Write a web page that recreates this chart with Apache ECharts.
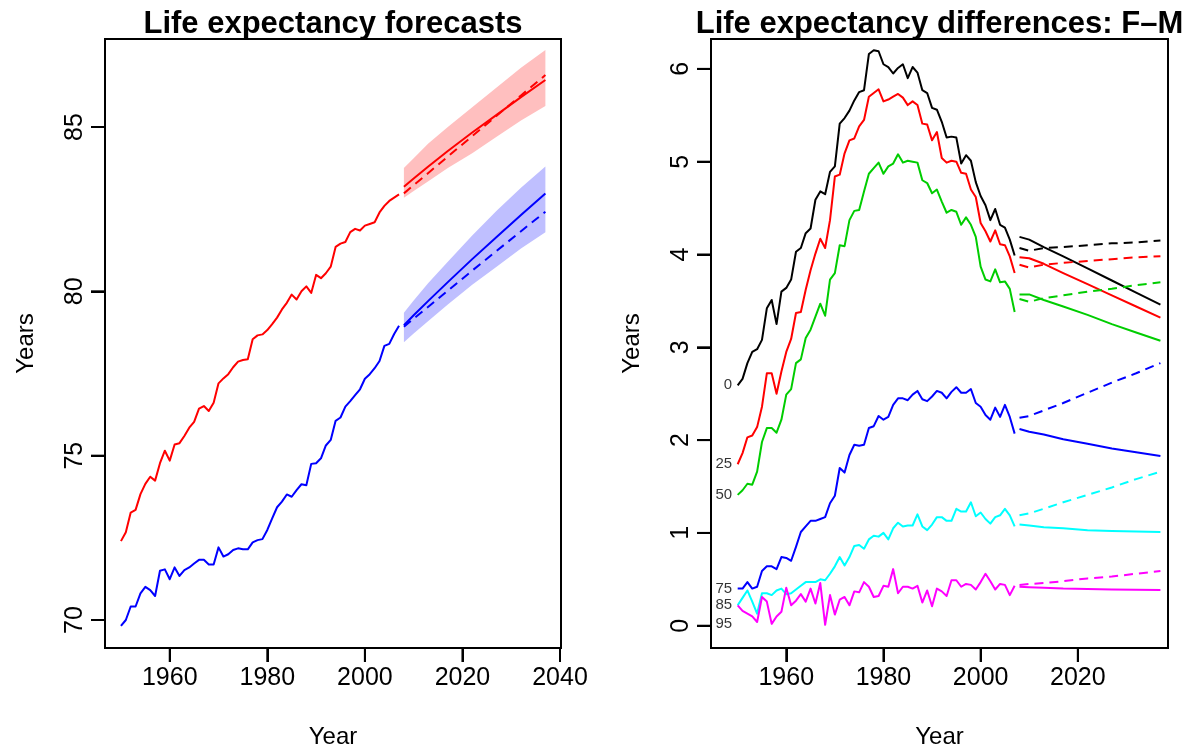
<!DOCTYPE html>
<html>
<head>
<meta charset="utf-8">
<script src="https://cdn.jsdelivr.net/npm/echarts@6/dist/echarts.min.js"></script>
<style>
  html, body { margin: 0; padding: 0; background: #ffffff; }
  #chart { width: 1197px; height: 749px; }
</style>
</head>
<body>
<div id="chart"></div>
<script>
// ---------- years ----------
const histYears = Array.from({ length: 58 }, (_, i) => 1950 + i);   // 1950..2007
const fcYears = [2008, 2010, 2013, 2017, 2022, 2027, 2032, 2037];

// ---------- life expectancy at birth ----------
const femaleLE = [
  72.40, 72.67, 73.27, 73.35, 73.83, 74.14, 74.36, 74.24, 74.77, 75.15,
  74.85, 75.34, 75.38, 75.60, 75.85, 76.03, 76.43, 76.51, 76.36, 76.61,
  77.20, 77.35, 77.48, 77.69, 77.86, 77.91, 77.93, 78.54, 78.66, 78.69,
  78.82, 79.00, 79.20, 79.45, 79.65, 79.90, 79.75, 80.00, 80.15, 79.95,
  80.50, 80.40, 80.55, 80.75, 81.35, 81.45, 81.50, 81.80, 81.90, 81.85,
  82.00, 82.05, 82.10, 82.40, 82.60, 82.75, 82.85, 82.95
];
const maleLE = [
  69.82, 70.00, 70.41, 70.41, 70.81, 71.01, 70.91, 70.73, 71.50, 71.54,
  71.24, 71.60, 71.34, 71.52, 71.60, 71.72, 71.83, 71.83, 71.69, 71.69,
  72.21, 71.93, 72.00, 72.13, 72.18, 72.15, 72.15, 72.36, 72.43, 72.46,
  72.74, 73.09, 73.43, 73.60, 73.82, 73.75, 73.95, 74.13, 74.10, 74.75,
  74.77, 74.92, 75.31, 75.48, 76.06, 76.16, 76.49, 76.66, 76.84, 77.02,
  77.34, 77.48, 77.66, 77.88, 78.34, 78.40, 78.70, 78.95
];
// forecasts (solid = coherent, dashed = independent) and 80% bands
const femaleFc    = [83.18, 83.43, 83.80, 84.27, 84.83, 85.37, 85.91, 86.43];
const femaleFcInd = [82.98, 83.23, 83.60, 84.10, 84.72, 85.34, 85.96, 86.58];
const femaleLo    = [82.85, 83.05, 83.35, 83.75, 84.20, 84.70, 85.20, 85.64];
const femaleHi    = [83.75, 84.05, 84.50, 85.00, 85.60, 86.20, 86.80, 87.34];
const maleFc      = [78.97, 79.27, 79.71, 80.28, 80.98, 81.65, 82.32, 82.98];
const maleFcInd   = [78.92, 79.17, 79.53, 80.02, 80.63, 81.23, 81.83, 82.42];
const maleLo      = [78.45, 78.72, 79.10, 79.60, 80.20, 80.75, 81.30, 81.80];
const maleHi      = [79.35, 79.72, 80.25, 80.90, 81.70, 82.45, 83.15, 83.80];

// ---------- female minus male differences by age ----------
const ages = ['0', '25', '50', '75', '85', '95'];
const diffAge0 = [
  2.59, 2.66, 2.83, 2.95, 2.98, 3.08, 3.42, 3.51, 3.25, 3.60,
  3.64, 3.73, 4.03, 4.07, 4.23, 4.28, 4.59, 4.68, 4.65, 4.89,
  4.95, 5.41, 5.47, 5.55, 5.66, 5.75, 5.77, 6.16, 6.20, 6.19,
  6.05, 6.02, 5.95, 6.01, 6.05, 5.90, 6.02, 5.96, 5.77, 5.74,
  5.58, 5.56, 5.43, 5.26, 5.27, 5.26, 4.98, 5.07, 5.01, 4.78,
  4.63, 4.53, 4.37, 4.49, 4.32, 4.29, 4.16, 3.99
];
const diffAge25 = [
  1.74, 1.86, 2.03, 2.05, 2.14, 2.36, 2.72, 2.72, 2.50, 2.74,
  2.95, 3.09, 3.37, 3.38, 3.62, 3.83, 4.01, 4.17, 4.07, 4.37,
  4.84, 4.86, 5.09, 5.23, 5.25, 5.38, 5.45, 5.70, 5.74, 5.78,
  5.65, 5.67, 5.70, 5.73, 5.69, 5.61, 5.65, 5.61, 5.41, 5.40,
  5.23, 5.32, 5.04, 4.99, 5.01, 5.00, 4.88, 4.87, 4.70, 4.62,
  4.34, 4.25, 4.14, 4.26, 4.11, 4.10, 3.98, 3.80
];
const diffAge50 = [
  1.41, 1.46, 1.53, 1.52, 1.66, 1.98, 2.13, 2.13, 2.08, 2.22,
  2.49, 2.55, 2.83, 2.87, 3.10, 3.19, 3.33, 3.47, 3.34, 3.73,
  3.80, 4.10, 4.09, 4.37, 4.47, 4.48, 4.68, 4.87, 4.93, 4.99,
  4.87, 4.95, 4.98, 5.08, 4.99, 5.01, 5.00, 4.99, 4.80, 4.77,
  4.66, 4.70, 4.57, 4.45, 4.48, 4.46, 4.32, 4.40, 4.32, 4.19,
  3.87, 3.73, 3.71, 3.84, 3.70, 3.71, 3.63, 3.38
];
const diffAge75 = [
  0.40, 0.40, 0.47, 0.40, 0.42, 0.59, 0.64, 0.64, 0.61, 0.74,
  0.73, 0.70, 0.85, 1.01, 1.07, 1.13, 1.13, 1.15, 1.17, 1.32,
  1.40, 1.70, 1.65, 1.84, 1.95, 1.94, 1.95, 2.13, 2.15, 2.26,
  2.22, 2.25, 2.38, 2.45, 2.45, 2.43, 2.49, 2.53, 2.44, 2.42,
  2.47, 2.53, 2.51, 2.45, 2.52, 2.57, 2.51, 2.51, 2.55, 2.40,
  2.36, 2.27, 2.22, 2.35, 2.25, 2.38, 2.25, 2.07
];
const diffAge85 = [
  0.22, 0.30, 0.38, 0.26, 0.13, 0.35, 0.35, 0.33, 0.38, 0.40,
  0.34, 0.35, 0.39, 0.43, 0.47, 0.47, 0.47, 0.50, 0.49, 0.56,
  0.64, 0.74, 0.65, 0.74, 0.86, 0.87, 0.83, 0.93, 0.97, 0.96,
  1.00, 0.93, 1.05, 1.11, 1.07, 1.08, 1.08, 1.20, 1.07, 1.03,
  1.09, 1.17, 1.17, 1.13, 1.13, 1.26, 1.23, 1.23, 1.33, 1.18,
  1.22, 1.15, 1.10, 1.17, 1.19, 1.26, 1.19, 1.07
];
const diffAge95 = [
  0.22, 0.16, 0.13, 0.10, 0.04, 0.31, 0.26, 0.02, 0.10, 0.15,
  0.41, 0.22, 0.27, 0.34, 0.26, 0.40, 0.24, 0.46, 0.01, 0.33,
  0.12, 0.28, 0.31, 0.22, 0.37, 0.36, 0.47, 0.42, 0.31, 0.32,
  0.43, 0.42, 0.61, 0.35, 0.42, 0.42, 0.40, 0.43, 0.25, 0.38,
  0.21, 0.40, 0.37, 0.32, 0.49, 0.49, 0.42, 0.45, 0.44, 0.39,
  0.47, 0.56, 0.48, 0.39, 0.45, 0.44, 0.33, 0.43
];
// coherent (solid) forecasts of the differences
const diffFc0  = [4.19, 4.16, 4.08, 3.98, 3.85, 3.72, 3.59, 3.46];
const diffFc25 = [3.97, 3.96, 3.90, 3.80, 3.68, 3.56, 3.44, 3.32];
const diffFc50 = [3.57, 3.57, 3.51, 3.44, 3.35, 3.25, 3.16, 3.07];
const diffFc75 = [2.12, 2.09, 2.06, 2.01, 1.96, 1.91, 1.87, 1.83];
const diffFc85 = [1.09, 1.08, 1.06, 1.05, 1.03, 1.02, 1.015, 1.01];
const diffFc95 = [0.42, 0.415, 0.41, 0.40, 0.395, 0.39, 0.387, 0.385];
// independent (dashed) forecasts of the differences
const diffInd0  = [4.07, 4.04, 4.07, 4.08, 4.10, 4.12, 4.13, 4.15];
const diffInd25 = [3.89, 3.86, 3.89, 3.91, 3.93, 3.95, 3.97, 3.98];
const diffInd50 = [3.52, 3.49, 3.53, 3.56, 3.60, 3.63, 3.67, 3.70];
const diffInd75 = [2.24, 2.26, 2.32, 2.40, 2.51, 2.62, 2.72, 2.83];
const diffInd85 = [1.19, 1.21, 1.26, 1.33, 1.41, 1.49, 1.58, 1.66];
const diffInd95 = [0.44, 0.45, 0.46, 0.48, 0.51, 0.53, 0.56, 0.59];
// where each age name sits beside the start of its curve
const ageLabelY = [2.59, 1.74, 1.41, 0.40, 0.22, 0.02];

// ---------- tick positions ----------
const leftXTicks  = [1960, 1980, 2000, 2020, 2040];
const leftYTicks  = [70, 75, 80, 85];
const rightXTicks = [1960, 1980, 2000, 2020];
const rightYTicks = [0, 1, 2, 3, 4, 5, 6];

// ---------- styling ----------
const FONT = '"Liberation Sans", Arial, Helvetica, sans-serif';
const RED = '#FF0000', BLUE = '#0000FF';
const ageColors = ['#000000', '#FF0000', '#00CD00', '#0000FF', '#00FFFF', '#FF00FF'];
const DASH = [9, 6];
const TICK_LEN = 14;

const histSets = [diffAge0, diffAge25, diffAge50, diffAge75, diffAge85, diffAge95];
const fcSets = [diffFc0, diffFc25, diffFc50, diffFc75, diffFc85, diffFc95];
const indSets = [diffInd0, diffInd25, diffInd50, diffInd75, diffInd85, diffInd95];

const grids = [
  { left: 105, top: 39, width: 456, height: 609 },
  { left: 711, top: 39, width: 457, height: 609 }
];

function lineSeries(panel, years, vals, color, dashed) {
  return {
    type: 'line',
    xAxisIndex: panel,
    yAxisIndex: panel,
    data: years.map((y, i) => [y, vals[i]]),
    showSymbol: false,
    symbol: 'none',
    silent: true,
    z: 3,
    lineStyle: { color: color, width: 2, type: dashed ? DASH : 'solid', cap: 'butt', join: 'round' }
  };
}

// shaded prediction interval as one polygon through the axis scales
function bandSeries(lo, hi, fill) {
  return {
    type: 'custom',
    xAxisIndex: 0,
    yAxisIndex: 0,
    silent: true,
    z: 2,
    data: fcYears.map((y, i) => [y, lo[i], hi[i]]),
    encode: { x: 0, y: [1, 2] },
    renderItem: function (params, api) {
      if (params.dataIndex !== 0) return { type: 'group', children: [] };
      const pts = [];
      for (let i = 0; i < fcYears.length; i++) pts.push(api.coord([fcYears[i], hi[i]]));
      for (let i = fcYears.length - 1; i >= 0; i--) pts.push(api.coord([fcYears[i], lo[i]]));
      return { type: 'polygon', shape: { points: pts }, style: { fill: fill, stroke: null } };
    }
  };
}

const plainNumber = v => String(v);

function xAxisCfg(grid, min, max, ticks) {
  return {
    type: 'value', gridIndex: grid, min: min, max: max, position: 'bottom',
    name: 'Year', nameLocation: 'middle', nameGap: 77,
    nameTextStyle: { fontSize: 24, color: '#000', fontFamily: FONT },
    axisLine: { show: true, onZero: false, lineStyle: { color: '#000', width: 2 } },
    axisTick: { show: true, inside: false, length: TICK_LEN, customValues: ticks, lineStyle: { color: '#000', width: 2 } },
    axisLabel: { show: true, customValues: ticks, formatter: plainNumber, margin: 18, fontSize: 25, color: '#000', fontFamily: FONT },
    splitLine: { show: false }
  };
}
function yAxisCfg(grid, min, max, ticks) {
  return {
    type: 'value', gridIndex: grid, min: min, max: max, position: 'left',
    name: 'Years', nameLocation: 'middle', nameGap: 67,
    nameTextStyle: { fontSize: 24, color: '#000', fontFamily: FONT },
    axisLine: { show: true, onZero: false, lineStyle: { color: '#000', width: 2 } },
    axisTick: { show: true, inside: false, length: TICK_LEN, customValues: ticks, lineStyle: { color: '#000', width: 2 } },
    axisLabel: { show: true, customValues: ticks, formatter: plainNumber, rotate: 90, margin: 17, fontSize: 25, color: '#000', fontFamily: FONT },
    splitLine: { show: false }
  };
}

const series = [];
// left panel: bands, then observed and forecast curves
series.push(bandSeries(femaleLo, femaleHi, '#FFBFBF'));
series.push(bandSeries(maleLo, maleHi, '#BFBFFF'));
series.push(lineSeries(0, histYears, femaleLE, RED, false));
series.push(lineSeries(0, histYears, maleLE, BLUE, false));
series.push(lineSeries(0, fcYears, femaleFc, RED, false));
series.push(lineSeries(0, fcYears, femaleFcInd, RED, true));
series.push(lineSeries(0, fcYears, maleFc, BLUE, false));
series.push(lineSeries(0, fcYears, maleFcInd, BLUE, true));

// right panel: one observed, one coherent and one independent curve per age
for (let k = 0; k < ages.length; k++) {
  series.push(lineSeries(1, histYears, histSets[k], ageColors[k], false));
}
for (let k = 0; k < ages.length; k++) {
  series.push(lineSeries(1, fcYears, fcSets[k], ageColors[k], false));
  series.push(lineSeries(1, fcYears, indSets[k], ageColors[k], true));
}
// age names at the left end of each curve
series.push({
  type: 'scatter',
  xAxisIndex: 1, yAxisIndex: 1,
  symbolSize: 1,
  silent: true,
  z: 5,
  itemStyle: { color: 'rgba(0,0,0,0)' },
  data: ages.map((a, i) => ({ value: [histYears[0], ageLabelY[i]], name: a })),
  label: {
    show: true, position: 'left', distance: 5,
    formatter: p => p.name,
    fontSize: 15, color: '#000', fontFamily: FONT
  }
});

const titleEls = [
  { type: 'text', x: 333, y: 24, silent: true,
    style: { text: 'Life expectancy forecasts', align: 'center', verticalAlign: 'middle',
             fontSize: 31, fontWeight: 'bold', fontFamily: FONT, fill: '#000' } },
  { type: 'text', x: 939.5, y: 24, silent: true,
    style: { text: 'Life expectancy differences: F\u2013M', align: 'center', verticalAlign: 'middle',
             fontSize: 31, fontWeight: 'bold', fontFamily: FONT, fill: '#000' } }
];

const chart = echarts.init(document.getElementById('chart'), null, { renderer: 'canvas' });
chart.setOption({
  animation: false,
  backgroundColor: '#ffffff',
  grid: grids.map(g => Object.assign({
    show: true, borderColor: '#000', borderWidth: 2, backgroundColor: 'transparent',
    containLabel: false, outerBoundsMode: 'none'
  }, g)),
  xAxis: [
    xAxisCfg(0, 1946.73, 2040.2, leftXTicks),
    xAxisCfg(1, 1944.51, 2038.56, rightXTicks)
  ],
  yAxis: [
    yAxisCfg(0, 69.148, 87.677, leftYTicks),
    yAxisCfg(1, -0.240, 6.322, rightYTicks)
  ],
  graphic: titleEls,
  series: series
});

// outward tick marks on the bottom and left sides of each panel box
const tickEls = [];
[[leftXTicks, leftYTicks], [rightXTicks, rightYTicks]].forEach(([xt, yt], k) => {
  const yBase = chart.convertToPixel({ yAxisIndex: k }, k === 0 ? 69.148 : -0.240);
  const xBase = chart.convertToPixel({ xAxisIndex: k }, k === 0 ? 1946.73 : 1944.51);
  xt.forEach(v => {
    const px = chart.convertToPixel({ xAxisIndex: k }, v);
    tickEls.push({ type: 'line', silent: true, z: 10,
      shape: { x1: px, y1: yBase, x2: px, y2: yBase + TICK_LEN },
      style: { stroke: '#000', lineWidth: 2 } });
  });
  yt.forEach(v => {
    const py = chart.convertToPixel({ yAxisIndex: k }, v);
    tickEls.push({ type: 'line', silent: true, z: 10,
      shape: { x1: xBase, y1: py, x2: xBase - TICK_LEN, y2: py },
      style: { stroke: '#000', lineWidth: 2 } });
  });
});
chart.setOption({ graphic: titleEls.concat(tickEls) });
</script>
</body>
</html>
